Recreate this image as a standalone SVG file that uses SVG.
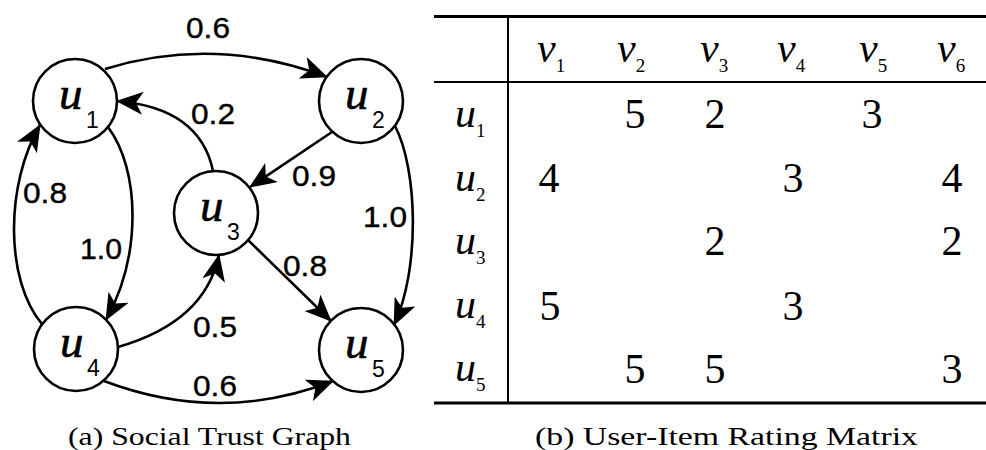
<svg xmlns="http://www.w3.org/2000/svg" width="986" height="450" viewBox="0 0 986 450">
<style>
.nd{fill:#fff;stroke:#000;stroke-width:2.6}
.nu{font-family:'Liberation Serif','Times New Roman',Times,serif;font-style:italic;font-size:47px;fill:#000;stroke:#000;stroke-width:0.6}
.ns{font-family:'Liberation Sans',Arial,Helvetica,sans-serif;font-size:23px;fill:#000}
.e{fill:none;stroke:#000;stroke-width:2.6;marker-end:url(#ah)}
.el{font-family:'Liberation Sans',Arial,Helvetica,sans-serif;font-size:29px;fill:#000;stroke:#000;stroke-width:0.4;text-anchor:middle}
.cap{font-family:'Liberation Serif','Times New Roman',Times,serif;font-size:25px;fill:#000}
.tl{stroke:#000;fill:none}
.ti{font-family:'Liberation Serif','Times New Roman',Times,serif;font-style:italic;font-size:42px;fill:#000}
.ts{font-family:'Liberation Serif','Times New Roman',Times,serif;font-style:normal;font-size:19px}
.td{font-family:'Liberation Serif','Times New Roman',Times,serif;font-size:42px;fill:#000}
</style>
<defs>
<marker id="ah" viewBox="0 0 27 23" refX="26" refY="11.5" markerWidth="27" markerHeight="23" markerUnits="userSpaceOnUse" orient="auto">
<path d="M0,0 L27,11.5 L0,23 L7,11.5 z" fill="#000"/>
</marker>
</defs>
<rect width="986" height="450" fill="#fff"/>
<g id="edges">
<path class="e" d="M105,69 Q215,35 327,77"/>
<path class="e" d="M213,171 Q200,108 117,101"/>
<path class="e" d="M332,132 L250,187"/>
<path class="e" d="M395,126 C418,170 420,270 394,325"/>
<path class="e" d="M108,127 C140,170 142,255 106,320"/>
<path class="e" d="M42,324 C5,280 5,185 40,125"/>
<path class="e" d="M118,347 Q205,322 219,255"/>
<path class="e" d="M248,240 L331,321"/>
<path class="e" d="M104,381 Q220,425 333,381"/>
<text class="el" x="208" y="38" textLength="44" lengthAdjust="spacingAndGlyphs">0.6</text>
<text class="el" x="213" y="124" textLength="44" lengthAdjust="spacingAndGlyphs">0.2</text>
<text class="el" x="314" y="186" textLength="44" lengthAdjust="spacingAndGlyphs">0.9</text>
<text class="el" x="45" y="203" textLength="44" lengthAdjust="spacingAndGlyphs">0.8</text>
<text class="el" x="385" y="227" textLength="44" lengthAdjust="spacingAndGlyphs">1.0</text>
<text class="el" x="101" y="259" textLength="42" lengthAdjust="spacingAndGlyphs">1.0</text>
<text class="el" x="305" y="276" textLength="44" lengthAdjust="spacingAndGlyphs">0.8</text>
<text class="el" x="215" y="337" textLength="44" lengthAdjust="spacingAndGlyphs">0.5</text>
<text class="el" x="215" y="396" textLength="44" lengthAdjust="spacingAndGlyphs">0.6</text>
</g>
<g id="u1"><circle class="nd" cx="75" cy="101" r="42"/><text class="nu" x="59" y="109">u</text><text class="ns" x="86" y="128">1</text></g>
<g id="u2"><circle class="nd" cx="361" cy="101" r="42"/><text class="nu" x="345" y="109">u</text><text class="ns" x="372" y="128">2</text></g>
<g id="u3"><circle class="nd" cx="216" cy="213" r="42"/><text class="nu" x="200" y="221">u</text><text class="ns" x="227" y="240">3</text></g>
<g id="u4"><circle class="nd" cx="76" cy="349" r="42"/><text class="nu" x="60" y="357">u</text><text class="ns" x="87" y="376">4</text></g>
<g id="u5"><circle class="nd" cx="361" cy="350" r="42"/><text class="nu" x="345" y="358">u</text><text class="ns" x="372" y="377">5</text></g>
<text class="cap" x="68" y="445" textLength="283" lengthAdjust="spacingAndGlyphs">(a) Social Trust Graph</text>
<g id="table">
<line class="tl" x1="434" y1="16.5" x2="986" y2="16.5" stroke-width="3"/>
<line class="tl" x1="434" y1="82" x2="986" y2="82" stroke-width="2"/>
<line class="tl" x1="434" y1="403" x2="986" y2="403" stroke-width="3"/>
<line class="tl" x1="508" y1="16" x2="508" y2="403" stroke-width="2"/>
<text class="ti" x="537" y="62">v<tspan class="ts" dy="10">1</tspan></text>
<text class="ti" x="617" y="62">v<tspan class="ts" dy="10">2</tspan></text>
<text class="ti" x="700" y="62">v<tspan class="ts" dy="10">3</tspan></text>
<text class="ti" x="777" y="62">v<tspan class="ts" dy="10">4</tspan></text>
<text class="ti" x="859" y="62">v<tspan class="ts" dy="10">5</tspan></text>
<text class="ti" x="937" y="62">v<tspan class="ts" dy="10">6</tspan></text>
<text class="ti" x="455" y="127">u<tspan class="ts" dy="10">1</tspan></text>
<text class="ti" x="455" y="191">u<tspan class="ts" dy="10">2</tspan></text>
<text class="ti" x="455" y="254">u<tspan class="ts" dy="10">3</tspan></text>
<text class="ti" x="455" y="318">u<tspan class="ts" dy="10">4</tspan></text>
<text class="ti" x="455" y="381">u<tspan class="ts" dy="10">5</tspan></text>
<g text-anchor="middle">
<text class="td" x="635" y="128">5</text>
<text class="td" x="715" y="128">2</text>
<text class="td" x="872" y="128">3</text>
<text class="td" x="549" y="192">4</text>
<text class="td" x="793" y="192">3</text>
<text class="td" x="952" y="192">4</text>
<text class="td" x="715" y="255">2</text>
<text class="td" x="952" y="255">2</text>
<text class="td" x="550" y="320">5</text>
<text class="td" x="793" y="320">3</text>
<text class="td" x="635" y="383">5</text>
<text class="td" x="715" y="383">5</text>
<text class="td" x="952" y="383">3</text>
</g>
</g>
<text class="cap" x="535" y="445" textLength="383" lengthAdjust="spacingAndGlyphs">(b) User-Item Rating Matrix</text>
</svg>
